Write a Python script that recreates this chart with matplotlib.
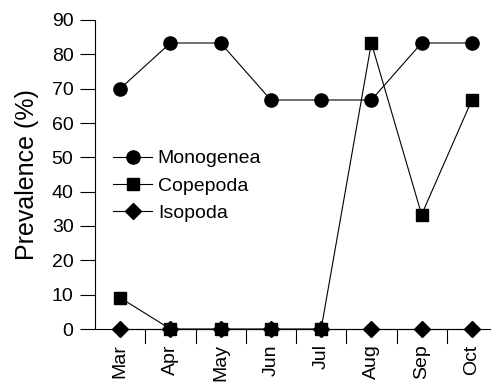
import matplotlib
matplotlib.use('Agg')
import matplotlib.pyplot as plt

months = ['Mar', 'Apr', 'May', 'Jun', 'Jul', 'Aug', 'Sep', 'Oct']
monogenea = [70.0, 83.3, 83.3, 66.7, 66.7, 66.7, 83.3, 83.3]
copepoda = [9.1, 0, 0, 0, 0, 83.3, 33.3, 66.7]
isopoda = [0, 0, 0, 0, 0, 0, 0, 0]

plt.rcParams['font.family'] = ['Liberation Sans', 'DejaVu Sans']

fig = plt.figure(figsize=(4.91, 3.85), dpi=100)
ax = fig.add_axes([95/491, 56/385, 402/491, 309/385])

x = range(len(months))
ax.plot(x, monogenea, 'k-', marker='o', ms=9.5, lw=0.8, label='Monogenea', clip_on=False, zorder=3)
ax.plot(x, copepoda, 'k-', marker='s', ms=8, lw=0.8, label='Copepoda', clip_on=False, zorder=3)
ax.plot(x, isopoda, 'k-', marker='D', ms=8.5, lw=0.8, label='Isopoda', clip_on=False, zorder=3)

ax.set_xlim(-0.5, 7.5)
ax.set_ylim(0, 90)
ax.set_yticks(range(0, 91, 10))
# category ticks sit between months, labels centred on each month
ax.set_xticks([i + 0.5 for i in range(len(months))])
ax.set_xticklabels([])
ax.set_xticks(list(x), minor=True)
ax.set_xticklabels(months, minor=True, rotation=90, fontsize=14)
ax.tick_params(axis='x', which='minor', length=0, pad=11)
ax.tick_params(axis='x', which='major', direction='in', length=0)
ax.tick_params(axis='y', direction='out', length=10.5, width=0.8, labelsize=14, pad=5)

# x ticks hang below the axis line
for xb in [i + 0.5 for i in range(len(months) - 1)]:
    ax.plot([xb, xb], [0, -4.2], color='k', lw=0.8, clip_on=False)

for s in ['top', 'right']:
    ax.spines[s].set_visible(False)
ax.spines['left'].set_linewidth(0.8)
ax.spines['bottom'].set_linewidth(0.8)

ax.set_ylabel('Prevalence (%)', fontsize=18, labelpad=9)
ax.legend(loc='center left', bbox_to_anchor=(0.045, 0.463), frameon=False, fontsize=14,
          handlelength=2.0, handletextpad=0.3, labelspacing=0.5, borderaxespad=0,
          borderpad=0)

fig.savefig('out.png', dpi=100)
